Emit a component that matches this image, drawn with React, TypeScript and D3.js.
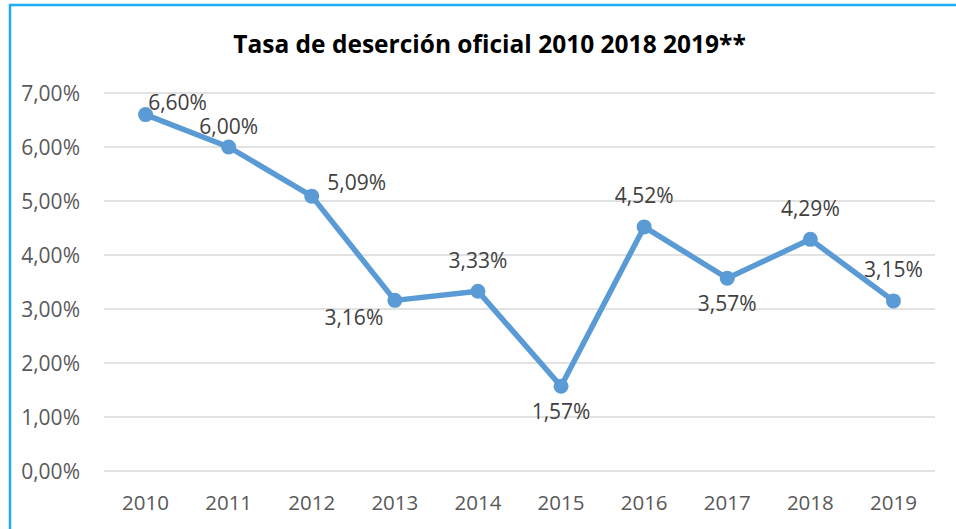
import React from "react";
import * as d3 from "d3";

const years = ["2010", "2011", "2012", "2013", "2014", "2015", "2016", "2017", "2018", "2019"];
const rates = [6.6, 6.0, 5.09, 3.16, 3.33, 1.57, 4.52, 3.57, 4.29, 3.15];
const labelPlacement = ["topRight", "topNear", "right", "bottomLeft", "top", "bottom", "top", "bottom", "top", "top"];
const yTicks = [0, 1, 2, 3, 4, 5, 6, 7];
const title = "Tasa de deserción oficial 2010 2018 2019**";

const W = 956, H = 529;
const fmt = (v: number) => v.toFixed(2).replace(".", ",") + "%";

export default function App() {
  const x = d3.scaleBand<string>().domain(years).range([104, 935]);
  const y = d3.scaleLinear().domain([0, 7]).range([471, 93]);
  const cx = (d: string) => (x(d) as number) + x.bandwidth() / 2;
  const line = d3.line<number>().x((_, i) => cx(years[i])).y((v) => y(v));
  const font = "'Open Sans', sans-serif";

  const offs: Record<string, [number, number]> = {
    topRight: [32, -12],
    topNear: [0, -21],
    right: [45, -14],
    bottomLeft: [-41, 17],
    top: [0, -31],
    bottom: [0, 25],
  };

  return (
    <svg width={W} height={H} style={{ position: "absolute", left: 0, top: 0, background: "#fff" }}>
      <rect x={10} y={5} width={980} height={560} fill="#fff" stroke="#1EADEF" strokeWidth={2.5} />
      <text x={489.5} y={53} textAnchor="middle" fontFamily={font} fontWeight="bold" fontSize={24.5} fill="#000">
        {title}
      </text>
      {yTicks.map((t) => (
        <g key={t}>
          <line x1={104} x2={935} y1={y(t)} y2={y(t)} stroke="#D9D9D9" strokeWidth={1.3} />
          <text x={80} y={y(t) + 8} textAnchor="end" fontFamily={font} fontSize={21} fill="#595959">
            {fmt(t)}
          </text>
        </g>
      ))}
      {years.map((yr) => (
        <text key={yr} x={cx(yr)} y={510} textAnchor="middle" fontFamily={font} fontSize={20.5} fill="#595959">
          {yr}
        </text>
      ))}
      <path d={line(rates) || ""} fill="none" stroke="#5B9BD5" strokeWidth={5.5} strokeLinejoin="round" />
      {rates.map((v, i) => (
        <circle key={i} cx={cx(years[i])} cy={y(v)} r={7.5} fill="#5B9BD5" />
      ))}
      {rates.map((v, i) => {
        const [dx, dy] = offs[labelPlacement[i]];
        return (
          <text key={"l" + i} x={cx(years[i]) + dx} y={y(v) + dy + 7.5} textAnchor="middle" fontFamily={font} fontSize={21} fill="#404040">
            {fmt(v)}
          </text>
        );
      })}
    </svg>
  );
}
